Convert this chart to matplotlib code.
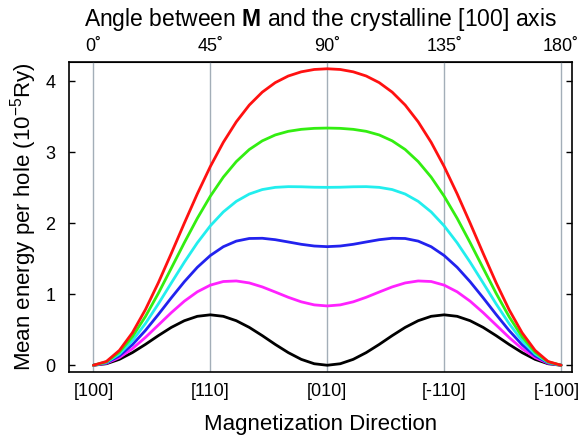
import matplotlib
matplotlib.use("Agg")
import matplotlib.pyplot as plt
from matplotlib.transforms import ScaledTranslation

plt.rcParams['font.family'] = ['Liberation Sans', 'DejaVu Sans']
plt.rcParams['mathtext.fontset'] = 'custom'
plt.rcParams['mathtext.rm'] = 'Liberation Sans'
plt.rcParams['mathtext.bf'] = 'Liberation Sans:bold'

angle = [0, 5, 10, 15, 20, 25, 30, 35, 40, 45, 50, 55, 60, 65, 70, 75, 80, 85, 90,
         95, 100, 105, 110, 115, 120, 125, 130, 135, 140, 145, 150, 155, 160, 165, 170, 175, 180]

black = [0, 0.021, 0.083, 0.178, 0.293, 0.417, 0.533, 0.627, 0.689, 0.710, 0.689, 0.627, 0.533,
         0.417, 0.293, 0.178, 0.083, 0.021, 0,
         0.021, 0.083, 0.178, 0.293, 0.417, 0.533, 0.627, 0.689, 0.710, 0.689, 0.627, 0.533,
         0.417, 0.293, 0.178, 0.083, 0.021, 0]
magenta = [0, 0.028, 0.108, 0.233, 0.391, 0.566, 0.741, 0.902, 1.034, 1.128, 1.179, 1.187, 1.159,
           1.103, 1.031, 0.957, 0.893, 0.850, 0.835,
           0.850, 0.893, 0.957, 1.031, 1.103, 1.159, 1.187, 1.179, 1.128, 1.034, 0.902, 0.741,
           0.566, 0.391, 0.233, 0.108, 0.028, 0]
blue = [0, 0.034, 0.133, 0.289, 0.489, 0.715, 0.950, 1.176, 1.379, 1.545, 1.669, 1.748, 1.785,
        1.788, 1.768, 1.736, 1.703, 1.679, 1.670,
        1.679, 1.703, 1.736, 1.768, 1.788, 1.785, 1.748, 1.669, 1.545, 1.379, 1.176, 0.950,
        0.715, 0.489, 0.289, 0.133, 0.034, 0]
cyan = [0, 0.040, 0.159, 0.345, 0.586, 0.864, 1.159, 1.451, 1.724, 1.963, 2.159, 2.308, 2.411,
        2.474, 2.505, 2.515, 2.513, 2.507, 2.505,
        2.507, 2.513, 2.515, 2.505, 2.474, 2.411, 2.308, 2.159, 1.963, 1.724, 1.451, 1.159,
        0.864, 0.586, 0.345, 0.159, 0.040, 0]
green = [0, 0.047, 0.184, 0.401, 0.684, 1.013, 1.368, 1.726, 2.069, 2.380, 2.649, 2.868, 3.038,
         3.160, 3.243, 3.294, 3.322, 3.336, 3.340,
         3.336, 3.322, 3.294, 3.243, 3.160, 3.038, 2.868, 2.649, 2.380, 2.069, 1.726, 1.368,
         1.013, 0.684, 0.401, 0.184, 0.047, 0]
red = [0, 0.053, 0.209, 0.457, 0.782, 1.162, 1.576, 2.001, 2.414, 2.798, 3.139, 3.428, 3.664,
       3.846, 3.980, 4.073, 4.132, 4.165, 4.175,
       4.165, 4.132, 4.073, 3.980, 3.846, 3.664, 3.428, 3.139, 2.798, 2.414, 2.001, 1.576,
       1.162, 0.782, 0.457, 0.209, 0.053, 0]

series = [("black", black), ("#ff22ff", magenta), ("#2222ee", blue),
          ("#22eeee", cyan), ("#33ee11", green), ("#ff1111", red)]

xticks = [0, 45, 90, 135, 180]
bottom_labels = ["[100]", "[110]", "[010]", "[-110]", "[-100]"]
top_labels = ["0\u02da", "45\u02da", "90\u02da", "135\u02da", "180\u02da"]
yticks = [0, 1, 2, 3, 4]

fig = plt.figure(figsize=(5.82, 4.43), dpi=100)
ax = fig.add_axes([0.1194, 0.1603, 0.8634, 0.6997])

for x in xticks:
    ax.axvline(x, color="#a3aeb8", lw=1.0, zorder=1)

for c, y in series:
    ax.plot(angle, y, color=c, lw=2.0, zorder=3, solid_capstyle='round')

ax.set_xlim(-9.2, 184.2)
ax.set_ylim(-0.095, 4.27)
ax.set_xticks(xticks)
ax.set_xticklabels(bottom_labels, fontsize=13)
ax.set_yticks(yticks)
ax.set_yticklabels([str(v) for v in yticks], fontsize=13)
ax.tick_params(axis='x', length=0, pad=8)
ax.tick_params(axis='y', direction='in', length=4, right=True, width=1, pad=10)
for s in ax.spines.values():
    s.set_linewidth(1.2)

lbls = ax.get_xticklabels()
lbls[-1].set_transform(lbls[-1].get_transform() + ScaledTranslation(-4 / 100, 0, fig.dpi_scale_trans))

ax.set_xlabel("Magnetization Direction", fontsize=16, labelpad=10)
ax.set_ylabel("Mean energy per hole (10$^{-5}$Ry)", fontsize=16, labelpad=5)

top = ax.secondary_xaxis('top')
top.set_xticks(xticks)
top.set_xticklabels(top_labels, fontsize=13)
top.tick_params(length=0, pad=5)
top.set_xlabel(r"Angle between $\mathbf{M}$ and the crystalline [100] axis", fontsize=16.5, labelpad=9)

fig.savefig("out.png", dpi=100)
